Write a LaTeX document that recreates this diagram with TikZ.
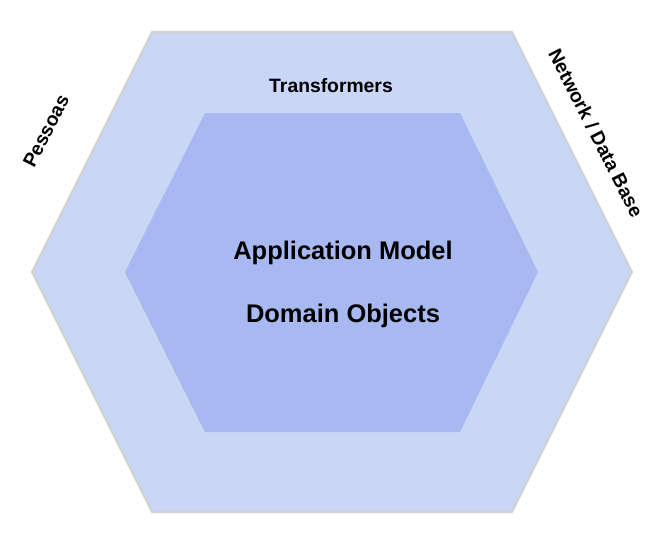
\documentclass[tikz,border=0pt]{standalone}
\usepackage{fontspec}
\setmainfont{Liberation Sans}
\usepackage{xcolor}
\definecolor{hexout}{RGB}{201,214,246}
\definecolor{hexin}{RGB}{168,185,242}
\definecolor{hexline}{RGB}{210,210,210}

\begin{document}
\begin{tikzpicture}[
  x=0.02cm, y=-0.02cm,
  side/.style={font=\fontsize{11}{13}\selectfont\bfseries},
  core/.style={font=\fontsize{14.5}{17}\selectfont\bfseries},
]
\useasboundingbox (0,0) rectangle (672,548);
% outer layer
\draw[hexline, line width=1.2pt, fill=hexout]
  (32,272) -- (152,32) -- (512,32) -- (632,272) -- (512,512) -- (152,512) -- cycle;
% inner layer
\fill[hexin]
  (125,272) -- (205,113) -- (460,113) -- (538,272) -- (460,432) -- (205,432) -- cycle;

\node[side] (trans) at (331,86) {Transformers};
\node[side, rotate=63] (pess) at (46,131) {Pessoas};
\node[side, rotate=-63] (net) at (596,133) {Network / Data Base};

\node[core] (app) at (343,253) {Application Model};
\node[core] (dom) at (343,316) {Domain Objects};
\end{tikzpicture}
\end{document}
